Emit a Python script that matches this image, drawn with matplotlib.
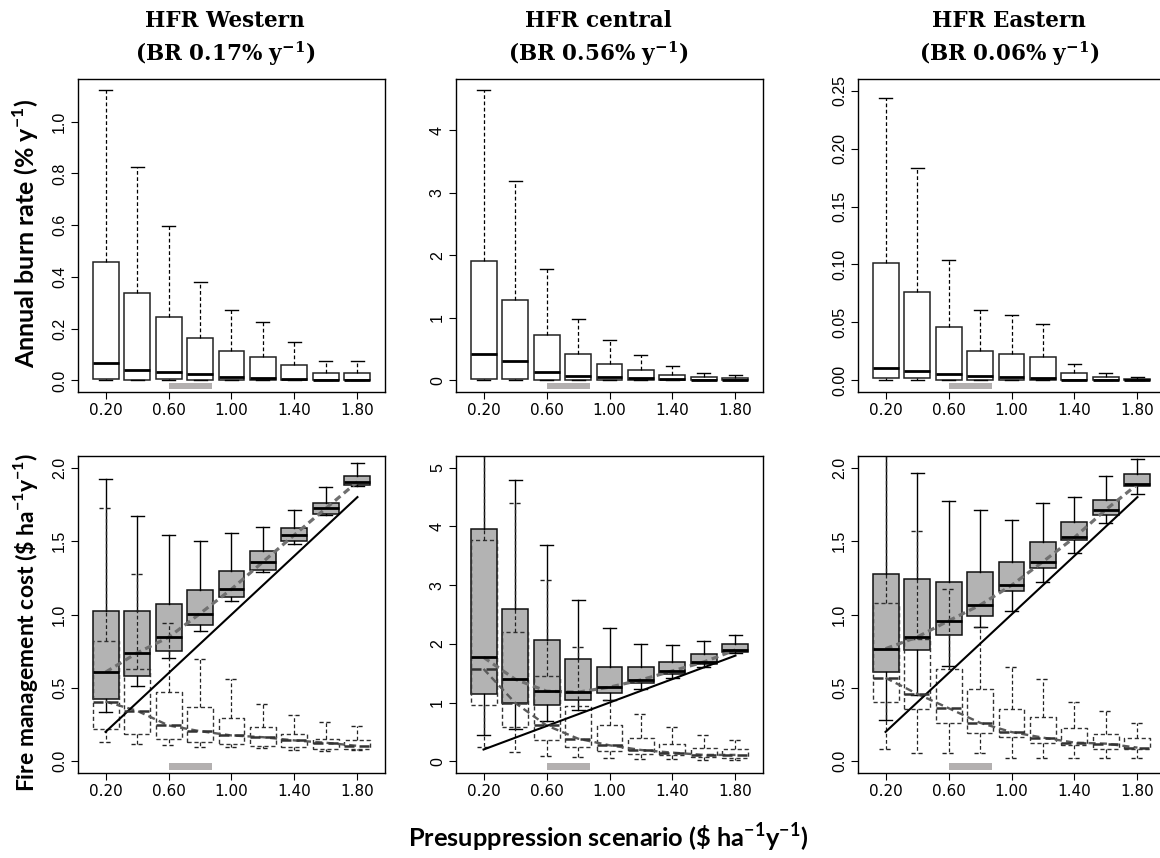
import numpy as np
import matplotlib.pyplot as plt

plt.rcParams.update({
    "font.family": "DejaVu Sans",
    "mathtext.fontset": "custom",
    "mathtext.rm": "Lato",
    "mathtext.bf": "Lato:bold",
})

# presuppression scenarios ($ ha-1 y-1) and the labelled ones
SCENARIOS = [0.2, 0.4, 0.6, 0.8, 1.0, 1.2, 1.4, 1.6, 1.8]
TICKS = [0.2, 0.6, 1.0, 1.4, 1.8]
CURRENT_SPEND = (0.6, 0.875)

# each row: lower whisker, Q1, median, Q3, upper whisker
# annual burn rate (% y-1)
WEST_BR = [
    [0.0, 0.006, 0.069, 0.457, 1.124],
    [0.0, 0.003, 0.040, 0.337, 0.824],
    [0.0, 0.004, 0.031, 0.245, 0.598],
    [0.0, 0.001, 0.026, 0.162, 0.381],
    [0.0, 0.001, 0.013, 0.112, 0.272],
    [0.0, 0.000, 0.010, 0.092, 0.227],
    [0.0, 0.000, 0.005, 0.061, 0.150],
    [0.0, 0.000, 0.001, 0.030, 0.075],
    [0.0, 0.000, 0.001, 0.030, 0.075],
]
CENT_BR = [
    [0.0, 0.027, 0.427, 1.909, 4.640],
    [0.0, 0.016, 0.304, 1.291, 3.184],
    [0.0, 0.005, 0.128, 0.725, 1.787],
    [0.0, 0.005, 0.075, 0.421, 0.981],
    [0.0, 0.003, 0.059, 0.267, 0.645],
    [0.0, 0.000, 0.032, 0.171, 0.411],
    [0.0, 0.000, 0.021, 0.091, 0.224],
    [0.0, 0.000, 0.005, 0.053, 0.123],
    [0.0, 0.000, 0.004, 0.043, 0.091],
]
EAST_BR = [
    [0.0, 0.0023, 0.0110, 0.1013, 0.2433],
    [0.0, 0.0017, 0.0080, 0.0760, 0.1830],
    [0.0, 0.0003, 0.0055, 0.0459, 0.1036],
    [0.0, 0.0000, 0.0035, 0.0254, 0.0609],
    [0.0, 0.0000, 0.0026, 0.0228, 0.0560],
    [0.0, 0.0000, 0.0023, 0.0202, 0.0485],
    [0.0, 0.0000, 0.0006, 0.0064, 0.0141],
    [0.0, 0.0000, 0.0003, 0.0032, 0.0064],
    [0.0, 0.0000, 0.0003, 0.0014, 0.0032],
]

# fire management cost ($ ha-1 y-1): total cost (grey) and damage cost (dashed)
WEST_TOTAL = [
    [0.334, 0.423, 0.607, 1.024, 1.922],
    [0.516, 0.582, 0.738, 1.024, 1.672],
    [0.702, 0.752, 0.845, 1.069, 1.545],
    [0.890, 0.929, 1.006, 1.164, 1.500],
    [1.090, 1.117, 1.173, 1.294, 1.557],
    [1.287, 1.305, 1.359, 1.430, 1.595],
    [1.477, 1.498, 1.543, 1.586, 1.715],
    [1.677, 1.684, 1.724, 1.759, 1.870],
    [1.876, 1.881, 1.904, 1.944, 2.035],
]
WEST_DAMAGE = [
    [0.130, 0.219, 0.407, 0.822, 1.724],
    [0.117, 0.183, 0.344, 0.627, 1.276],
    [0.110, 0.151, 0.244, 0.470, 0.944],
    [0.094, 0.128, 0.205, 0.369, 0.700],
    [0.094, 0.121, 0.176, 0.296, 0.559],
    [0.087, 0.105, 0.164, 0.232, 0.393],
    [0.075, 0.099, 0.142, 0.185, 0.314],
    [0.073, 0.085, 0.126, 0.155, 0.269],
    [0.075, 0.085, 0.105, 0.142, 0.237],
]
CENT_TOTAL = [
    [0.453, 1.149, 1.771, 3.956, 6.200],
    [0.555, 0.985, 1.398, 2.592, 4.788],
    [0.685, 0.962, 1.194, 2.060, 3.684],
    [0.866, 1.041, 1.177, 1.737, 2.750],
    [1.036, 1.171, 1.262, 1.607, 2.264],
    [1.239, 1.335, 1.386, 1.607, 2.003],
    [1.410, 1.488, 1.539, 1.692, 1.975],
    [1.613, 1.658, 1.692, 1.822, 2.043],
    [1.840, 1.868, 1.896, 1.998, 2.156],
]
CENT_DAMAGE = [
    [0.249, 0.951, 1.573, 3.763, 5.800],
    [0.158, 0.583, 0.996, 2.196, 4.392],
    [0.090, 0.368, 0.611, 1.455, 3.084],
    [0.070, 0.243, 0.385, 0.939, 1.952],
    [0.050, 0.170, 0.272, 0.617, 1.050],
    [0.040, 0.130, 0.192, 0.402, 0.798],
    [0.030, 0.102, 0.147, 0.300, 0.577],
    [0.020, 0.080, 0.108, 0.232, 0.447],
    [0.020, 0.060, 0.108, 0.204, 0.362],
]
EAST_TOTAL = [
    [0.278, 0.609, 0.767, 1.279, 2.300],
    [0.453, 0.756, 0.846, 1.240, 1.967],
    [0.652, 0.858, 0.957, 1.224, 1.776],
    [0.914, 0.991, 1.064, 1.288, 1.711],
    [1.025, 1.161, 1.199, 1.358, 1.641],
    [1.224, 1.317, 1.360, 1.496, 1.763],
    [1.421, 1.507, 1.525, 1.627, 1.801],
    [1.625, 1.679, 1.715, 1.783, 1.944],
    [1.824, 1.876, 1.887, 1.955, 2.057],
]
EAST_DAMAGE = [
    [0.081, 0.407, 0.568, 1.077, 2.200],
    [0.059, 0.358, 0.460, 0.830, 1.570],
    [0.059, 0.258, 0.362, 0.629, 1.177],
    [0.059, 0.192, 0.262, 0.489, 0.914],
    [0.025, 0.167, 0.199, 0.358, 0.643],
    [0.025, 0.122, 0.161, 0.299, 0.561],
    [0.020, 0.109, 0.127, 0.226, 0.403],
    [0.020, 0.081, 0.120, 0.188, 0.342],
    [0.020, 0.081, 0.093, 0.158, 0.260],
]

REGIONS = ["HFR Western", "HFR central", "HFR Eastern"]
REGION_BR = ["0.17", "0.56", "0.06"]


def to_stats(rows):
    return [dict(whislo=r[0], q1=r[1], med=r[2], q3=r[3], whishi=r[4], fliers=[]) for r in rows]


def style_axis(ax, ymax, yticks, ylabels):
    pad = 0.04 * ymax
    ax.set_xlim(0.025, 1.975)
    ax.set_ylim(-pad, ymax + pad)
    ax.set_xticks(TICKS)
    ax.set_xticklabels([f"{t:.2f}" for t in TICKS], fontsize=11)
    ax.set_yticks(yticks)
    ax.set_yticklabels(ylabels, rotation=90, va="center", family="Liberation Sans", fontsize=11.5)
    ax.tick_params(direction="out", length=5, width=0.8, pad=3)
    for s in ax.spines.values():
        s.set_linewidth(1.0)
    # current presuppression spending
    ax.axvspan(CURRENT_SPEND[0], CURRENT_SPEND[1], ymin=0.008, ymax=0.03, color="#b3b0b0", lw=0)


fig = plt.figure(figsize=(11.6, 8.58), dpi=100)
W, H = 1160, 858
lefts = [78, 456, 858]
aw = 307

br_sets = [WEST_BR, CENT_BR, EAST_BR]
br_ymax = [1.12, 4.63, 0.25]
br_ticks = [
    ([0, 0.2, 0.4, 0.6, 0.8, 1.0], ["0.0", "0.2", "0.4", "0.6", "0.8", "1.0"]),
    ([0, 1, 2, 3, 4], ["0", "1", "2", "3", "4"]),
    ([0, 0.05, 0.10, 0.15, 0.20, 0.25], ["0.00", "0.05", "0.10", "0.15", "0.20", "0.25"]),
]
cost_sets = [(WEST_TOTAL, WEST_DAMAGE), (CENT_TOTAL, CENT_DAMAGE), (EAST_TOTAL, EAST_DAMAGE)]
cost_ymax = [2.0, 5.0, 2.0]
cost_ticks = [
    ([0, 0.5, 1.0, 1.5, 2.0], ["0.0", "0.5", "1.0", "1.5", "2.0"]),
    ([0, 1, 2, 3, 4, 5], ["0", "1", "2", "3", "4", "5"]),
    ([0, 0.5, 1.0, 1.5, 2.0], ["0.0", "0.5", "1.0", "1.5", "2.0"]),
]

bw = 0.165
for i in range(3):
    # burn rate row
    ax = fig.add_axes([lefts[i] / W, 1 - 392 / H, aw / W, 313 / H])
    ax.bxp(to_stats(br_sets[i]), positions=SCENARIOS, widths=bw, patch_artist=True,
           manage_ticks=False, showfliers=False,
           boxprops=dict(facecolor="white", edgecolor="#222222", linewidth=1.1),
           whiskerprops=dict(color="black", linewidth=0.9, linestyle=(0, (3, 2))),
           capprops=dict(color="black", linewidth=1.0),
           medianprops=dict(color="black", linewidth=2.0))
    style_axis(ax, br_ymax[i], *br_ticks[i])

    # management cost row
    total, damage = cost_sets[i]
    ax = fig.add_axes([lefts[i] / W, 1 - 773 / H, aw / W, 317 / H])
    ax.bxp(to_stats(total), positions=SCENARIOS, widths=bw, patch_artist=True,
           manage_ticks=False, showfliers=False,
           boxprops=dict(facecolor="#b3b3b3", edgecolor="#111111", linewidth=1.1),
           whiskerprops=dict(color="black", linewidth=1.0),
           capprops=dict(color="black", linewidth=1.0),
           medianprops=dict(color="black", linewidth=2.0))
    ax.bxp(to_stats(damage), positions=SCENARIOS, widths=bw, patch_artist=False,
           manage_ticks=False, showfliers=False,
           boxprops=dict(color="#333333", linewidth=1.0, linestyle=(0, (3, 2))),
           whiskerprops=dict(color="#222222", linewidth=0.9, linestyle=(0, (3, 2))),
           capprops=dict(color="#222222", linewidth=1.0, linestyle=(0, (3, 2))),
           medianprops=dict(color="#333333", linewidth=1.8, linestyle=(0, (4, 2))))
    ax.plot(SCENARIOS, [r[2] for r in total], color="#707070", lw=2.3, ls=(0, (2.2, 1.4)))
    ax.plot(SCENARIOS, [r[2] for r in damage], color="#5a5a5a", lw=1.7, ls=(0, (3.0, 1.8)))
    # presuppression cost itself
    ends = [SCENARIOS[0], SCENARIOS[-1]]
    ax.plot(ends, ends, color="black", lw=1.5)
    style_axis(ax, cost_ymax[i], *cost_ticks[i])

# panel titles
title_x = [225, 598, 1009]
for i in range(3):
    fig.text(title_x[i] / W, 1 - 21 / H, REGIONS[i], ha="center", va="center",
             family="DejaVu Serif", weight="bold", fontsize=15.5)
    fig.text(title_x[i] / W, 1 - 54 / H, "(BR " + REGION_BR[i] + r"% y$^{\mathbf{-1}}$)",
             ha="center", va="center", family="DejaVu Serif", weight="bold", fontsize=15.5,
             math_fontfamily="dejavuserif")

fig.text(26 / W, 1 - 233 / H, r"Annual burn rate (% y$^{\mathbf{-1}}$)", rotation=90,
         ha="center", va="center", family="Lato", weight="bold", fontsize=18,
         math_fontfamily="custom")
fig.text(26 / W, 1 - 622 / H, r"Fire management cost (\$ ha$^{\mathbf{-1}}$y$^{\mathbf{-1}}$)",
         rotation=90, ha="center", va="center", family="Lato", weight="bold", fontsize=16.5,
         math_fontfamily="custom")
fig.text(608 / W, 1 - 838 / H, r"Presuppression scenario (\$ ha$^{\mathbf{-1}}$y$^{\mathbf{-1}}$)",
         ha="center", va="center", family="Lato", weight="bold", fontsize=18.3,
         math_fontfamily="custom")

fig.savefig("out.png", dpi=100, facecolor="white")
